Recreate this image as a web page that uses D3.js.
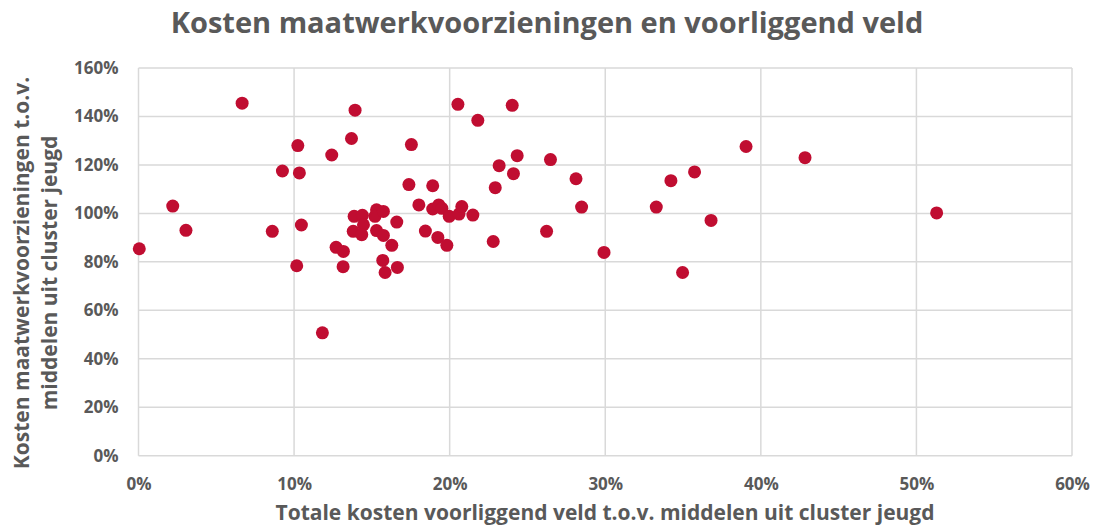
<!DOCTYPE html>
<html>
<head>
<meta charset="utf-8">
<script src="https://cdn.jsdelivr.net/npm/d3@7"></script>
<style>
  body { margin: 0; background: #fff; }
  svg { font-family: "Open Sans", sans-serif; }
</style>
</head>
<body>
<script>
// data (fractions)
var voorliggendVeld = [
    0.0005, 0.022, 0.0305, 0.0666, 0.086, 0.0925, 0.1024, 0.1034, 0.1047, 0.1017,
    0.1242, 0.1369, 0.1392, 0.127, 0.1317, 0.1315, 0.1386, 0.1439, 0.1446, 0.138,
    0.1435, 0.153, 0.152, 0.1574, 0.153, 0.1574, 0.166, 0.1628, 0.157, 0.1585,
    0.1664, 0.1754, 0.1738, 0.1891, 0.1802, 0.1891, 0.193, 0.195, 0.1997, 0.1844,
    0.1924, 0.1982, 0.206, 0.2053, 0.2402, 0.2181, 0.2434, 0.2318, 0.241, 0.2648,
    0.2293, 0.2812, 0.3574, 0.3422, 0.3905, 0.2078, 0.2149, 0.2848, 0.3328, 0.368,
    0.228, 0.2623, 0.2992, 0.3497, 0.4284, 0.513, 0.1182
];
var maatwerk = [
    0.854, 1.03, 0.93, 1.455, 0.926, 1.175, 1.28, 1.167, 0.952, 0.784,
    1.241, 1.309, 1.426, 0.86, 0.843, 0.78, 0.988, 0.992, 0.953, 0.926,
    0.912, 1.015, 0.988, 1.008, 0.929, 0.909, 0.964, 0.868, 0.806, 0.756,
    0.777, 1.284, 1.119, 1.114, 1.035, 1.018, 1.035, 1.021, 0.988, 0.927,
    0.901, 0.868, 0.997, 1.45, 1.446, 1.384, 1.238, 1.197, 1.164, 1.222,
    1.106, 1.143, 1.171, 1.135, 1.276, 1.028, 0.993, 1.026, 1.026, 0.971,
    0.884, 0.926, 0.839, 0.756, 1.23, 1.002, 0.507
];
var xTicks = [0, 0.1, 0.2, 0.3, 0.4, 0.5, 0.6];
var yTicks = [0, 0.2, 0.4, 0.6, 0.8, 1.0, 1.2, 1.4, 1.6];

var points = voorliggendVeld.map(function (v, i) {
    return {x: v, y: maatwerk[i]};
});

var width = 1097, height = 528;
var margin = {top: 68, right: 25, bottom: 72, left: 138.5};

var grey = "#595959";
var gridColor = "#d9d9d9";

var x = d3.scaleLinear().domain([0, 0.6]).range([0, 1072 - margin.left]);
var y = d3.scaleLinear().domain([0, 1.6]).range([455.7 - margin.top, 0]);

var svg = d3.select("body").append("svg")
    .attr("width", width)
    .attr("height", height);

var g = svg.append("g")
    .attr("transform", "translate(" + margin.left + "," + margin.top + ")");

// gridlines
g.append("g")
    .selectAll("line.h")
    .data(yTicks)
    .enter().append("line")
    .attr("x1", 0).attr("x2", x(0.6))
    .attr("y1", function (d) { return y(d); })
    .attr("y2", function (d) { return y(d); })
    .attr("stroke", gridColor).attr("stroke-width", 1.5);

g.append("g")
    .selectAll("line.v")
    .data(xTicks)
    .enter().append("line")
    .attr("y1", 0).attr("y2", y(0))
    .attr("x1", function (d) { return x(d); })
    .attr("x2", function (d) { return x(d); })
    .attr("stroke", gridColor).attr("stroke-width", 1.5);

var fmt = d3.format(".0%");

// axes, labels only
var xAxis = g.append("g")
    .attr("transform", "translate(0," + y(0) + ")")
    .call(d3.axisBottom(x).tickValues(xTicks).tickFormat(fmt).tickSize(0).tickPadding(22));
var yAxis = g.append("g")
    .call(d3.axisLeft(y).tickValues(yTicks).tickFormat(fmt).tickSize(0).tickPadding(20));

[xAxis, yAxis].forEach(function (a) {
    a.select(".domain").remove();
    a.selectAll("text")
        .attr("fill", grey)
        .style("font-size", "17px")
        .style("font-weight", "700")
        .style("font-family", "'Open Sans', sans-serif");
});

// points
g.append("g")
    .selectAll("circle")
    .data(points)
    .enter().append("circle")
    .attr("cx", function (d) { return x(d.x); })
    .attr("cy", function (d) { return y(d.y); })
    .attr("r", 6.5)
    .attr("fill", "#c00d31");

// title
svg.append("text")
    .attr("x", 547).attr("y", 33)
    .attr("text-anchor", "middle")
    .attr("fill", grey)
    .style("font-size", "29px")
    .style("font-weight", "700")
    .text("Kosten maatwerkvoorzieningen en voorliggend veld");

// x axis title
svg.append("text")
    .attr("x", 605).attr("y", 520)
    .attr("text-anchor", "middle")
    .attr("fill", grey)
    .style("font-size", "21px")
    .style("font-weight", "700")
    .text("Totale kosten voorliggend veld t.o.v. middelen uit cluster jeugd");

// y axis title, two lines
var yTitle = svg.append("text")
    .attr("transform", "translate(29,273) rotate(-90)")
    .attr("text-anchor", "middle")
    .attr("fill", grey)
    .style("font-size", "21px")
    .style("font-weight", "700");
yTitle.append("tspan").attr("x", 0).attr("dy", 0).text("Kosten maatwerkvoorzieningen t.o.v.");
yTitle.append("tspan").attr("x", 0).attr("dy", 28).text("middelen uit cluster jeugd");
</script>
</body>
</html>
